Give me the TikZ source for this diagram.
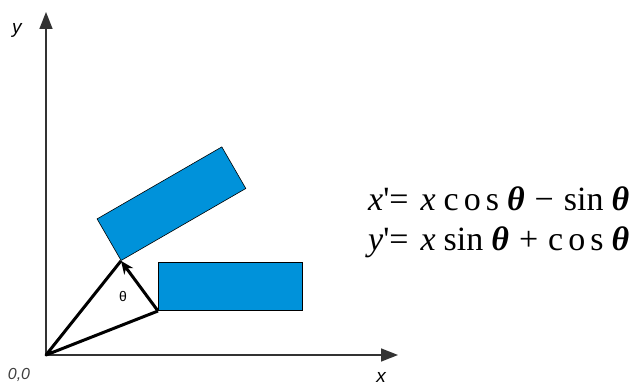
\documentclass[tikz,border=0pt]{standalone}
\usepackage{fontspec}
\setmainfont{Liberation Serif}
\setsansfont{Liberation Sans}
\usepackage{tikz}
\usetikzlibrary{arrows.meta,calc}
\definecolor{boxblue}{HTML}{0092DA}
\newcommand{\thet}{\textit{\textbf{θ}}}

\begin{document}
\begin{tikzpicture}[
  x=1pt, y=1pt,
  >={Triangle[length=17pt,width=13pt]},
  axis/.style={line width=1.6pt, draw=black!80},
  vec/.style={line width=3pt, line join=round},
  blockbox/.style={draw, fill=boxblue, line width=0.6pt, minimum width=144pt,
                   minimum height=48pt, inner sep=0pt, anchor=south west},
  lbl/.style={font=\sffamily\itshape\fontsize{19}{21}\selectfont, inner sep=0pt},
  eq/.style={font=\fontsize{34}{36}\selectfont, anchor=west, inner sep=0pt}
]
\useasboundingbox (0,0) rectangle (637,385);

\coordinate (O)    at (46,30);
\coordinate (xend) at (398,30);
\coordinate (yend) at (46,373);

\draw[axis,->] (O) -- (xend);
\draw[axis,->] (O) -- (yend);

\node (box)  [blockbox] at (158,74) {};
\node (boxr) [blockbox, rotate=30] at ($(O)!1!30:(box.south west)$) {};

\draw[vec] (box.south west) -- (O) -- (boxr.south west);
\draw[vec, -{Stealth[length=13pt,width=11pt]}] (box.south west) -- (boxr.south west);

\node (theta) [font=\sffamily\fontsize{14}{16}\selectfont] at (123,88) {θ};

\node (ylbl) [lbl] at (17,355) {y};
\node (orig) [lbl, font=\sffamily\itshape\fontsize{16}{18}\selectfont, text=black!75] at (19,10) {0,0};
\node (xlbl) [lbl] at (381,8) {x};

% transformed coordinates
\node (eqx) [eq] at (368,186) {\textit{x}\textquotesingle{}=\hspace{12pt}\textit{x}\hspace{8pt}c\hspace{5pt}o\hspace{5pt}s\hspace{8pt}\thet\hspace{10pt}−\hspace{10pt}sin\hspace{8pt}\thet};
\node (eqy) [eq] at (368,143) {\textit{y}\textquotesingle{}=\hspace{12pt}\textit{x}\hspace{8pt}sin\hspace{8pt}\thet\hspace{10pt}+\hspace{10pt}c\hspace{5pt}o\hspace{5pt}s\hspace{8pt}\thet};
\end{tikzpicture}
\end{document}
